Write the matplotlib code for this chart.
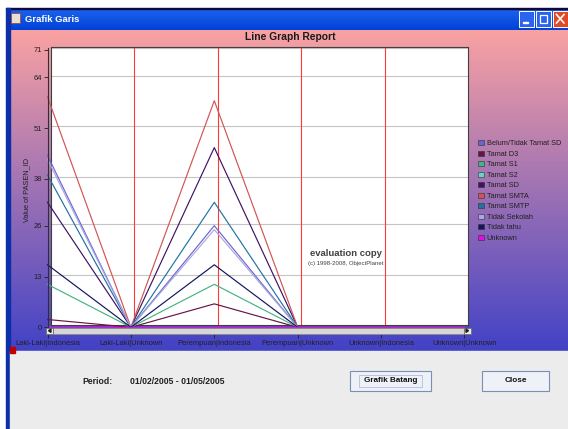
import numpy as np
import matplotlib
matplotlib.use("Agg")
import matplotlib.pyplot as plt
from matplotlib.patches import Rectangle, Patch, Polygon

plt.rcParams["font.family"] = ["Liberation Sans", "DejaVu Sans"]

categories = ["Laki-Laki|Indonesia", "Laki-Laki|Unknown", "Perempuan|Indonesia",
              "Perempuan|Unknown", "Unknown|Indonesia", "Unknown|Unknown"]

series_names = ["Belum/Tidak Tamat SD", "Tamat D3", "Tamat S1", "Tamat S2", "Tamat SD",
                "Tamat SMTA", "Tamat SMTP", "Tidak Sekolah", "Tidak tahu", "Unknown"]

belum_tamat_sd = [44, 0, 26, 0, 0, 0]
tamat_d3 = [2, 0, 6, 0, 0, 0]
tamat_s1 = [11, 0, 11, 0, 0, 0]
tamat_s2 = [0, 0, 0, 0, 0, 0]
tamat_sd = [32, 0, 46, 0, 0, 0]
tamat_smta = [59, 0, 58, 0, 0, 0]
tamat_smtp = [39, 0, 32, 0, 0, 0]
tidak_sekolah = [43, 0, 25, 0, 0, 0]
tidak_tahu = [16, 0, 16, 0, 0, 0]
unknown = [0, 0, 0, 0, 0, 0]

series_values = [belum_tamat_sd, tamat_d3, tamat_s1, tamat_s2, tamat_sd,
                 tamat_smta, tamat_smtp, tidak_sekolah, tidak_tahu, unknown]
colors = ["#6a64d2", "#6a1444", "#44b482", "#66d6c4", "#3e1264",
          "#d25454", "#2272a2", "#a8a8e2", "#12145e", "#e010e0"]

yticks = [0, 13, 26, 38, 51, 64, 71]

W, H = 568, 429


def px_rect(x0, y0, x1, y1):
    return [x0 / W, 1 - y1 / H, (x1 - x0) / W, (y1 - y0) / H]


fig = plt.figure(figsize=(W / 100, H / 100), dpi=100)

# window background (pixel coordinates)
bg = fig.add_axes([0, 0, 1, 1], zorder=-1)
bg.set_xlim(0, W)
bg.set_ylim(H, 0)
bg.axis("off")

top_c = np.array([250, 162, 162]) / 255
bot_c = np.array([66, 66, 198]) / 255
t = np.linspace(0, 1, 200)[:, None, None]
grad = (top_c * (1 - t) + bot_c * t)
bg.imshow(grad, extent=(8, W, 351, 29), aspect="auto", origin="upper", zorder=0)

# title bar
tb_t = np.linspace(0, 1, 30)[:, None, None]
tb = np.array([30, 100, 240]) / 255 * (1 - tb_t) + np.array([0, 66, 214]) / 255 * tb_t
bg.imshow(tb, extent=(6, W, 30, 8), aspect="auto", origin="upper", zorder=1)
bg.add_patch(Rectangle((6, 7.5), W, 1.2, color="#0a0a40", zorder=2))
bg.add_patch(Rectangle((5.5, 8), 4, H, color="#0b2fa8", zorder=2))
bg.add_patch(Rectangle((9.5, 351), W, H - 351, color="#ececec", zorder=2))
bg.add_patch(Rectangle((10, 346.5), 5, 6, color="#c00000", zorder=3))
bg.add_patch(Rectangle((11, 13), 9, 10, fc="#e8e0d0", ec="#a04020", lw=0.5, zorder=3))
bg.text(25, 19.5, "Grafik Garis", color="white", fontsize=6.8, fontweight="bold",
        va="center", ha="left", zorder=3)

# title bar buttons
for bx, fc in [(519, "#2a64ee"), (536, "#2a64ee"), (553, "#e04a22")]:
    bg.add_patch(Rectangle((bx, 11), 14.5, 15.5, fc=fc, ec="white", lw=0.7, zorder=3))
bg.add_patch(Rectangle((523, 21.5), 5, 1.8, color="white", zorder=4))
bg.add_patch(Rectangle((539.5, 14.5), 7.5, 8.5, fc="none", ec="white", lw=0.9, zorder=4))
bg.plot([556.5, 564], [14.5, 23], color="white", lw=1.2, zorder=4)
bg.plot([556.5, 564], [23, 14.5], color="white", lw=1.2, zorder=4)

# back wall with grid (shifted for depth)
wall = fig.add_axes(px_rect(50.5, 46.5, 468, 325.3), zorder=0)
wall.set_xlim(0, 5)
wall.set_ylim(0, 71.5)
wall.set_facecolor("white")
for s in wall.spines.values():
    s.set_color("#404040")
    s.set_linewidth(0.8)
wall.set_xticks([])
wall.set_yticks([])
for yv in yticks[1:]:
    wall.axhline(yv, color="#c4c4c4", lw=0.8)
for xv in range(1, len(categories) - 1):
    wall.axvline(xv, color="#ff3838", lw=0.8)

# data axes
ax = fig.add_axes(px_rect(47.5, 48, 464.5, 327.3), zorder=1)
ax.patch.set_visible(False)
ax.set_xlim(0, len(categories) - 1)
ax.set_ylim(0, 71.5)
x = np.arange(len(categories))
for name, vals, c in zip(series_names, series_values, colors):
    ax.plot(x, vals, color=c, lw=0.85, clip_on=False, label=name)
for side in ["top", "right", "bottom"]:
    ax.spines[side].set_visible(False)
ax.spines["left"].set_color("#303030")
ax.spines["left"].set_linewidth(0.8)
ax.set_yticks(yticks)
ax.set_yticklabels([str(v) for v in yticks])
ax.tick_params(axis="y", labelsize=5.4, length=3, width=0.6, pad=1, colors="#202020")
ax.set_xticks(x)
ax.set_xticklabels(categories)
ax.tick_params(axis="x", labelsize=5.4, length=8, width=0.6, pad=1.5, colors="#202020")

# overlay: scrollbar, texts, buttons
top = fig.add_axes([0, 0, 1, 1], zorder=5)
top.set_xlim(0, W)
top.set_ylim(H, 0)
top.axis("off")
top.patch.set_visible(False)

top.add_patch(Rectangle((46, 327.5), 425, 6.5, fc="#d6d6d6", ec="#8a8a8a", lw=0.6))
top.add_patch(Rectangle((46, 327.5), 7, 6.5, fc="#ececec", ec="#6a6a6a", lw=0.6))
top.add_patch(Rectangle((464, 327.5), 7, 6.5, fc="#ececec", ec="#6a6a6a", lw=0.6))
top.add_patch(Polygon([[48.5, 330.7], [51, 329], [51, 332.4]], color="#202020"))
top.add_patch(Polygon([[468.5, 330.7], [466, 329], [466, 332.4]], color="#202020"))

top.text(290, 37, "Line Graph Report", ha="center", va="center", fontsize=7.4,
         fontweight="bold", color="#1a1a1a")
top.text(27, 190, "Value of PASEN_ID", rotation=90, ha="center", va="center",
         fontsize=5.3, color="#202020")
top.text(346, 254, "evaluation copy", ha="center", va="center", fontsize=6.8,
         fontweight="bold", color="#404040")
top.text(346, 263, "(c) 1998-2008, ObjectPlanet", ha="center", va="center",
         fontsize=4.3, color="#404040")

top.text(82, 381, "Period:", ha="left", va="center", fontsize=6.2, fontweight="bold",
         color="#202020")
top.text(130, 381, "01/02/2005 - 01/05/2005", ha="left", va="center", fontsize=6.2,
         fontweight="bold", color="#202020")

for (bx0, bx1, label) in [(350, 431, "Grafik Batang"), (482, 549, "Close")]:
    top.add_patch(Rectangle((bx0, 371), bx1 - bx0, 19.5, fc="#eef1f8", ec="#7a8eb6", lw=0.8))
    top.text((bx0 + bx1) / 2, 381, label, ha="center", va="center", fontsize=5.9,
             fontweight="bold", color="#101010")
top.add_patch(Rectangle((359, 374.5), 63, 12.5, fc="none", ec="#a6b4d4", lw=0.5))

handles = [Patch(fc=c, ec="#303030", lw=0.4) for c in colors]
fig.legend(handles, series_names, loc="upper left",
           bbox_to_anchor=(478 / W, 1 - 140 / H), bbox_transform=fig.transFigure,
           frameon=False, fontsize=5.3, handlelength=0.75, handleheight=0.75,
           handletextpad=0.45, labelspacing=0.44, borderpad=0, borderaxespad=0,
           labelcolor="#202020")

fig.savefig("out.png", dpi=100)
